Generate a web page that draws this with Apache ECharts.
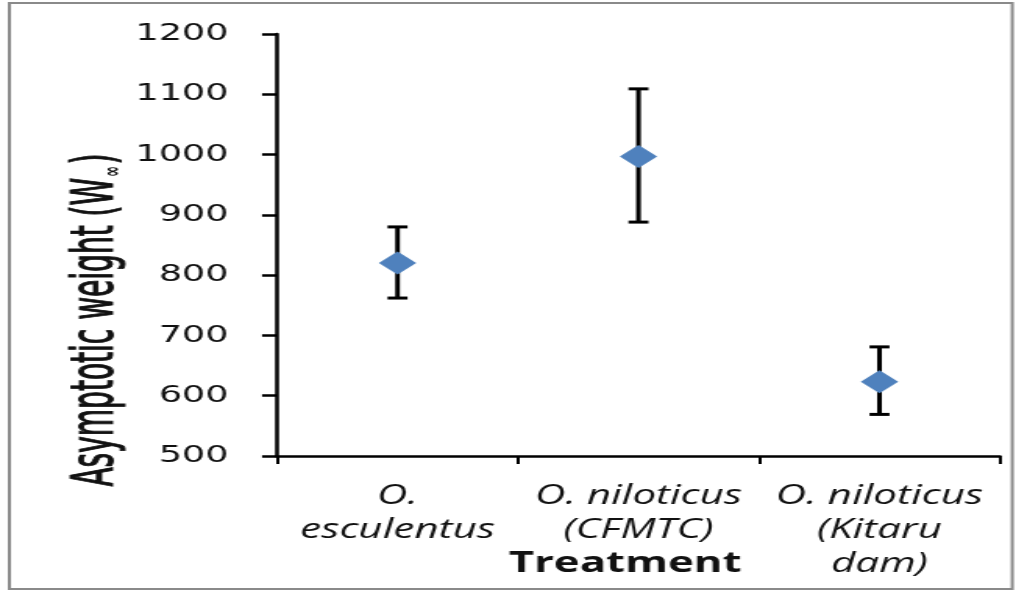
<!DOCTYPE html>
<html>
<head>
<meta charset="utf-8">
<script src="https://cdn.jsdelivr.net/npm/echarts@6.0.0/dist/echarts.min.js"></script>
<style>
  html, body { margin: 0; padding: 0; background: #fff; overflow: hidden; }
  /* the reference is stretched sideways, so draw narrow and widen it */
  #main { width: 651px; height: 592px; transform: scaleX(1.5607); transform-origin: 0 0; }
</style>
</head>
<body>
<div id="main"></div>
<script>
// data
var categories = ['O.\nesculentus', 'O. niloticus\n(CFMTC)', 'O. niloticus\n(Kitaru\ndam)'];
var meanWeight = [820, 997, 623];
var lowerBar = [762, 888, 569];
var upperBar = [880, 1109, 681];
var yTicks = { min: 500, max: 1200, step: 100 };

var errData = [];
for (var i = 0; i < categories.length; i++) {
    errData.push([i, lowerBar[i], upperBar[i]]);
}

function renderErrorBar(params, api) {
    var x = api.value(0);
    var lo = api.coord([x, api.value(1)]);
    var hi = api.coord([x, api.value(2)]);
    var w = 6.4;
    var st = { stroke: '#000', lineWidth: 3 };
    return {
        type: 'group',
        children: [
            { type: 'line', shape: { x1: hi[0], y1: hi[1], x2: lo[0], y2: lo[1] }, style: st },
            { type: 'line', shape: { x1: hi[0] - w, y1: hi[1], x2: hi[0] + w, y2: hi[1] }, style: st },
            { type: 'line', shape: { x1: lo[0] - w, y1: lo[1], x2: lo[0] + w, y2: lo[1] }, style: st }
        ]
    };
}

var myChart = echarts.init(document.getElementById('main'));

var titleFont = "'Liberation Sans Narrow', 'DejaVu Sans Condensed', sans-serif";

var option = {
    backgroundColor: '#fff',
    animation: false,
    grid: { left: 177.5, right: 10.3, top: 34, bottom: 136 },
    xAxis: {
        type: 'category',
        data: categories,
        boundaryGap: true,
        axisLine: { lineStyle: { color: '#000', width: 2.5 } },
        axisTick: { show: true, alignWithLabel: false, length: 8, lineStyle: { color: '#000', width: 2 } },
        axisLabel: {
            interval: 0,
            margin: 23,
            color: '#111',
            fontFamily: 'Open Sans',
            fontStyle: 'italic',
            fontSize: 27,
            lineHeight: 34
        },
        splitLine: { show: false }
    },
    yAxis: {
        type: 'value',
        min: yTicks.min,
        max: yTicks.max,
        interval: yTicks.step,
        axisLine: { show: true, lineStyle: { color: '#000', width: 2.5 } },
        axisTick: { show: true, length: 9.6, lineStyle: { color: '#000', width: 2.5 } },
        axisLabel: {
            margin: 31,
            color: '#111',
            fontFamily: 'DejaVu Sans',
            fontSize: 23.5,
            formatter: function (v) { return String(v); }
        },
        splitLine: { show: false }
    },
    graphic: [
        {
            type: 'rect',
            shape: { x: 6, y: 3, width: 642.6, height: 586 },
            style: { fill: 'none', stroke: '#8a8a8a', lineWidth: 2 },
            silent: true
        },
        {
            type: 'text',
            x: 62,
            y: 320,
            rotation: Math.PI / 2,
            scaleX: 0.82,
            style: {
                text: '{a|Asymptotic weight (W}{b|∞}{c|)}',
                textAlign: 'center',
                textVerticalAlign: 'middle',
                rich: {
                    a: { fontFamily: titleFont, fontSize: 38, fill: '#111', stroke: '#111', lineWidth: 0.9 },
                    b: { fontFamily: 'DejaVu Sans', fontSize: 16, fontWeight: 'bold', fill: '#111', verticalAlign: 'bottom', padding: [0, 2, 0, 1] },
                    c: { fontFamily: titleFont, fontSize: 38, fill: '#111', stroke: '#111', lineWidth: 0.9 }
                }
            }
        },
        {
            type: 'text',
            x: 400.5,
            y: 564,
            style: {
                text: 'Treatment',
                textAlign: 'center',
                textVerticalAlign: 'middle',
                fontFamily: 'Open Sans',
                fontWeight: 'bold',
                fontSize: 28,
                fill: '#111'
            }
        }
    ],
    series: [
        {
            type: 'custom',
            name: 'error',
            renderItem: renderErrorBar,
            encode: { x: 0, y: [1, 2] },
            data: errData,
            z: 2
        },
        {
            type: 'scatter',
            name: 'W',
            data: meanWeight,
            symbol: 'diamond',
            symbolSize: [24, 23],
            itemStyle: { color: '#4F81BD', opacity: 1 },
            z: 3
        }
    ]
};

myChart.setOption(option);
</script>
</body>
</html>
